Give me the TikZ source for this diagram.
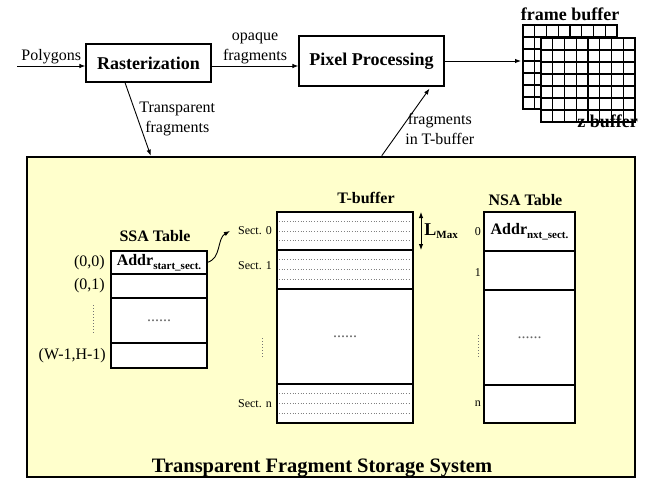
\documentclass[tikz,border=0pt]{standalone}
\usepackage{fontspec}
\setmainfont{Liberation Serif}
\usetikzlibrary{arrows.meta,positioning,calc}

\definecolor{storebg}{HTML}{FFFFCC}

\newcommand{\stagefont}{\fontsize{18}{20}\selectfont\bfseries}
\newcommand{\labelfont}{\fontsize{16}{20}\selectfont}
\newcommand{\tablefont}{\fontsize{16}{18}\selectfont\bfseries}
\newcommand{\smallfont}{\fontsize{12}{14}\selectfont}
\newcommand{\subfont}{\fontsize{11}{12}\selectfont\bfseries}
\newcommand{\titlefont}{\fontsize{20.5}{22}\selectfont\bfseries}

\tikzset{
  stage/.style={draw, line width=1.2pt, fill=white, inner sep=0pt, font=\stagefont},
  cell/.style={draw, line width=1.6pt, fill=white, inner sep=0pt, outer sep=0pt},
  sect/.style={cell, path picture={
      \foreach \q in {0.25,0.5,0.75}
        \draw[gray, dotted, line width=0.7pt]
          ($(path picture bounding box.north west)!\q!(path picture bounding box.south west)+(2,0)$) --
          ($(path picture bounding box.north east)!\q!(path picture bounding box.south east)-(2,0)$);}},
  arr/.style={-{Latex[length=6pt,width=4.5pt]}, line width=0.9pt},
  lbl/.style={inner sep=0pt, font=\labelfont, align=center},
  vdots/.style={black!55, dotted, line width=1pt},
  gap/.style={font=\labelfont, text=black!60},
}

\begin{document}
\begin{tikzpicture}[x=1pt, y=-1pt]
    \useasboundingbox (0,0) rectangle (647,481);

    % Storage system frame
    \node[draw, line width=2.5pt, fill=storebg, minimum width=608pt, minimum height=320pt, inner sep=0pt] (store) at (331,317) {};
    \node[anchor=base, inner sep=0pt, font=\titlefont] (storetitle) at ([xshift=-9pt,yshift=6pt]store.south) {Transparent Fragment Storage System};

    % Pipeline stages
    \coordinate (polyin) at (17,66);
    \node[stage, minimum width=125pt, minimum height=38pt] (raster) at (148.5,63) {Rasterization};
    \node[stage, minimum width=145pt, minimum height=50pt] (pixel) at (371.5,61) {Pixel Processing};
    \draw[arr] (polyin) -- node[lbl, above=2pt] (polylab) {Polygons} (polyin -| raster.west);
    \draw[arr] (raster.east |- polyin) -- node[lbl, above=2pt] (opaquelab) {opaque\\fragments} (pixel.west |- polyin);
    \draw[arr] ([xshift=-23.5pt]raster.south) -- node[lbl, right=1pt] (translab) {Transparent\\fragments} ([xshift=125pt]store.north west);
    \draw[arr] ([xshift=356pt]store.north west) -- node[lbl, pos=0.4, right=4pt] (tbuflab) {fragments\\in T-buffer} ([xshift=58pt,yshift=-2pt]pixel.south);

    % Frame buffer and z buffer
    \coordinate (fb) at (523,25);
    \coordinate (zb) at (541,38);
    \coordinate (fbin) at (521,0);
    \foreach \g in {fb,zb} {
        \filldraw[fill=white, line width=1.3pt] (\g) rectangle ++(94,84);
        \foreach \i in {1,...,7} \draw[line width=1.3pt] ([xshift=\i*11.75pt]\g) -- ++(0,84);
        \foreach \j in {1,...,6} \draw[line width=1.3pt] ([yshift=-\j*12pt]\g) -- ++(94,0);
    }
    \node[anchor=south, inner sep=0pt, font=\stagefont] (fblab) at ([xshift=47pt,yshift=4pt]fb) {frame buffer};
    \node[anchor=base east, inner sep=0pt, font=\stagefont] (zblab) at (638,128) {z buffer};
    \draw[arr] (pixel.east) -- (pixel.east -| fbin);

    % SSA table
    \node[cell, minimum width=96pt, minimum height=23pt, anchor=north west, font=\tablefont] (ssa0) at (111,251) {Addr\raisebox{-4pt}{\subfont start\_sect.}};
    \node[cell, minimum width=96pt, minimum height=24pt, below=0pt of ssa0] (ssa1) {};
    \node[cell, minimum width=96pt, minimum height=45pt, below=0pt of ssa1, gap] (ssa2) {......};
    \node[cell, minimum width=96pt, minimum height=25pt, below=0pt of ssa2] (ssa3) {};
    \node[above=9pt of ssa0, xshift=-4pt, inner sep=0pt, font=\tablefont] (ssatitle) {SSA Table};
    \node[lbl, left=6pt of ssa0] (ssalab0) {(0,0)};
    \node[lbl, left=6pt of ssa1] (ssalab1) {(0,1)};
    \node[lbl, left=5pt of ssa3] (ssalabn) {(W-1,H-1)};
    \draw[vdots] ([xshift=-18pt,yshift=-7pt]ssa2.north west) -- ([xshift=-18pt,yshift=9pt]ssa2.south west);

    % T-buffer
    \node[sect, minimum width=136pt, minimum height=38pt, anchor=north west] (tb0) at (277,212) {};
    \node[sect, minimum width=136pt, minimum height=39pt, below=0pt of tb0] (tb1) {};
    \node[cell, minimum width=136pt, minimum height=95pt, below=0pt of tb1, gap] (tb2) {......};
    \node[sect, minimum width=136pt, minimum height=39pt, below=0pt of tb2] (tbn) {};
    \node[above=8pt of tb0, xshift=21pt, inner sep=0pt, font=\tablefont] (tbtitle) {T-buffer};
    \node[left=5pt of tb0, inner sep=0pt, font=\smallfont] (sect0) {Sect. 0};
    \node[left=5pt of tb1, yshift=4pt, inner sep=0pt, font=\smallfont] (sect1) {Sect. 1};
    \node[left=5pt of tbn, inner sep=0pt, font=\smallfont] (sectn) {Sect. n};
    \draw[vdots] ([xshift=-15pt,yshift=-49pt]tb2.north west) -- ([xshift=-15pt,yshift=25pt]tb2.south west);
    \draw[{Latex[length=6pt,width=4.5pt]}-{Latex[length=6pt,width=4.5pt]}, line width=0.9pt] ([xshift=8pt]tb0.north east) -- node[right=3pt, inner sep=0pt] (lmax) {\stagefont L\raisebox{-3pt}{\subfont Max}} ([xshift=8pt]tb0.south east);
    \draw[arr] (ssa0.east) to[out=15, in=210] ([xshift=-8pt]sect0.west);

    % NSA table
    \node[cell, minimum width=91pt, minimum height=39pt, anchor=north west, font=\tablefont] (ns0) at (484,212) {Addr\raisebox{-4pt}{\subfont nxt\_sect.}};
    \node[cell, minimum width=91pt, minimum height=39pt, below=0pt of ns0] (ns1) {};
    \node[cell, minimum width=91pt, minimum height=95pt, below=0pt of ns1, gap] (ns2) {......};
    \node[cell, minimum width=91pt, minimum height=38pt, below=0pt of ns2] (nsn) {};
    \node[above=6pt of ns0, xshift=-4pt, inner sep=0pt, font=\tablefont] (nstitle) {NSA Table};
    \node[left=3pt of ns0, inner sep=0pt, font=\smallfont] (nslab0) {0};
    \node[left=3pt of ns1, yshift=-2pt, inner sep=0pt, font=\smallfont] (nslab1) {1};
    \node[left=3pt of nsn, inner sep=0pt, font=\smallfont] (nslabn) {n};
    \draw[vdots] ([xshift=-6pt,yshift=-45pt]ns2.north west) -- ([xshift=-6pt,yshift=28pt]ns2.south west);

\end{tikzpicture}
\end{document}
